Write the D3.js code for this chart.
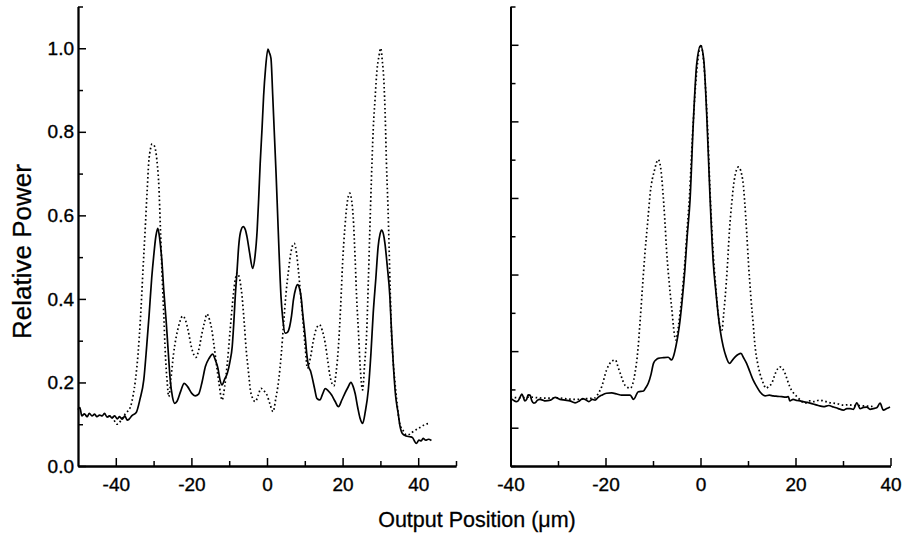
<!DOCTYPE html>
<html>
<head>
<meta charset="utf-8">
<script src="https://cdn.jsdelivr.net/npm/d3@7"></script>
<style>
  body { margin: 0; background: #fff; }
  svg { display: block; font-family: "Liberation Sans", Arial, sans-serif; }
</style>
</head>
<body>
<script>
var w = 903;
var h = 538;

// x ticks (um) and y ticks (relative power)
var leftXMajor = [-40, -20, 0, 20, 40];
var leftXMinor = [-30, -10, 10, 30, 50];
var rightXMajor = [-40, -20, 0, 20, 40];
var rightXMinor = [-30, -10, 10, 30];
var leftYMajor = [0, 0.2, 0.4, 0.6, 0.8, 1.0];
var leftYMinor = [0.1, 0.3, 0.5, 0.7, 0.9, 1.1];
var rightYMajor = [0, 0.2, 0.4, 0.6, 0.8, 1.0];
var rightYMinor = [-0.1, 0.1, 0.3, 0.5, 0.7, 0.9, 1.1];

// left panel, measured (solid) and dotted
var leftSolid = [[-50,0.135],[-49.5,0.14],[-49,0.12],[-48.3,0.125],[-47.6,0.118],[-47,0.126],[-46.3,0.12],[-45.6,0.124],[-45,0.118],[-44.3,0.122],[-43.6,0.12],[-43,0.126],[-42.3,0.117],[-41.6,0.12],[-41,0.115],[-40.3,0.12],[-39.6,0.113],[-39,0.118],[-38.3,0.112],[-37.6,0.12],[-37,0.11],[-36.5,0.112],[-35.8,0.12],[-34.6,0.128],[-33.6,0.16],[-32.6,0.206],[-31.8,0.29],[-31.2,0.36],[-30.5,0.45],[-30,0.5],[-29.4,0.55],[-28.9,0.569],[-28.4,0.545],[-27.8,0.49],[-27.3,0.42],[-26.7,0.35],[-26.1,0.27],[-25.6,0.206],[-25,0.165],[-24.4,0.15],[-23.8,0.155],[-22.8,0.18],[-21.9,0.198],[-21,0.19],[-19.9,0.174],[-19,0.168],[-18.1,0.172],[-17.2,0.2],[-16.3,0.238],[-15.3,0.258],[-14.4,0.268],[-13.6,0.252],[-13,0.235],[-12.4,0.205],[-11.9,0.194],[-11.2,0.208],[-10.5,0.222],[-9.8,0.25],[-9.2,0.286],[-8.8,0.34],[-8.4,0.406],[-7.9,0.47],[-7.5,0.525],[-7,0.56],[-6.3,0.573],[-5.7,0.565],[-5.3,0.549],[-4.6,0.51],[-3.8,0.473],[-3.2,0.5],[-2.6,0.565],[-2.2,0.64],[-1.8,0.725],[-1.3,0.81],[-0.9,0.885],[-0.4,0.95],[0.25,0.998],[0.6,0.99],[1.05,0.976],[1.5,0.89],[1.9,0.805],[2.4,0.7],[2.8,0.605],[3.2,0.51],[3.7,0.406],[4.2,0.35],[4.8,0.318],[5.4,0.32],[6,0.334],[6.5,0.36],[7,0.398],[7.6,0.425],[8.1,0.434],[8.6,0.425],[9,0.406],[9.5,0.36],[10.1,0.31],[10.5,0.27],[11,0.238],[11.5,0.228],[11.9,0.214],[12.6,0.185],[13.2,0.162],[14,0.158],[14.7,0.172],[15.4,0.185],[16.2,0.18],[17.1,0.17],[18,0.155],[18.9,0.142],[19.8,0.158],[20.6,0.174],[21.4,0.188],[22.2,0.2],[22.8,0.19],[23.3,0.174],[24,0.14],[24.6,0.115],[25.3,0.102],[26,0.13],[26.8,0.182],[27.5,0.27],[28.1,0.366],[28.8,0.45],[29.4,0.525],[29.9,0.555],[30.3,0.565],[30.8,0.555],[31.2,0.533],[31.8,0.48],[32.5,0.406],[32.9,0.33],[33.4,0.246],[34,0.17],[34.7,0.126],[35.2,0.095],[35.8,0.078],[36.8,0.072],[37.8,0.07],[38.5,0.068],[39,0.06],[39.5,0.054],[40.2,0.062],[40.8,0.06],[41.3,0.066],[42,0.062],[42.7,0.064],[43.5,0.061]];

var leftDotted = [[-42,0.118],[-41.4,0.12],[-40.5,0.11],[-39.7,0.1],[-39.2,0.102],[-38.3,0.115],[-37.4,0.126],[-36.1,0.142],[-35.4,0.17],[-34.8,0.206],[-34.1,0.27],[-33.5,0.35],[-32.8,0.47],[-32.1,0.589],[-31.7,0.66],[-31.3,0.725],[-30.8,0.76],[-30.4,0.771],[-29.9,0.768],[-29.5,0.757],[-29,0.72],[-28.6,0.669],[-28.2,0.57],[-27.8,0.469],[-27.3,0.36],[-26.9,0.27],[-26.4,0.2],[-26,0.166],[-25.4,0.21],[-24.7,0.27],[-24,0.31],[-23.4,0.334],[-22.3,0.359],[-21.6,0.35],[-20.9,0.326],[-20,0.285],[-18.8,0.26],[-18,0.28],[-17.2,0.318],[-16.5,0.345],[-15.9,0.364],[-15.2,0.35],[-14.6,0.326],[-14.1,0.294],[-13.4,0.245],[-12.7,0.198],[-11.9,0.158],[-11.2,0.19],[-10.5,0.246],[-9.8,0.32],[-9.2,0.382],[-8.5,0.44],[-7.9,0.462],[-7.3,0.45],[-6.6,0.406],[-6,0.34],[-5.5,0.278],[-4.9,0.225],[-4.4,0.182],[-3.8,0.162],[-3.1,0.154],[-2.3,0.17],[-1.6,0.186],[-0.8,0.18],[0,0.17],[0.8,0.148],[1.6,0.13],[2.3,0.16],[3.1,0.206],[3.8,0.27],[4.4,0.342],[5,0.41],[5.7,0.469],[6.4,0.515],[7.2,0.533],[7.8,0.51],[8.3,0.469],[8.9,0.41],[9.5,0.35],[10.1,0.285],[10.7,0.234],[11.5,0.26],[12.3,0.302],[13.1,0.33],[13.9,0.338],[14.6,0.325],[15.4,0.294],[16.1,0.25],[16.7,0.214],[17.7,0.192],[18.3,0.225],[18.9,0.286],[19.5,0.385],[20,0.486],[20.6,0.57],[21.2,0.629],[21.9,0.653],[22.4,0.635],[22.8,0.597],[23.3,0.5],[23.7,0.406],[24.2,0.32],[24.6,0.246],[25.3,0.182],[25.8,0.24],[26.4,0.326],[26.8,0.44],[27.2,0.565],[27.6,0.68],[28.1,0.805],[28.6,0.88],[29.1,0.948],[29.6,0.98],[30.1,1.0],[30.5,0.97],[30.9,0.925],[31.3,0.83],[31.6,0.725],[32,0.62],[32.3,0.525],[32.6,0.42],[32.9,0.326],[33.3,0.26],[33.8,0.206],[34.4,0.15],[35.1,0.102],[36,0.085],[36.9,0.074],[37.8,0.076],[38.6,0.082],[39.7,0.088],[40.8,0.094],[41.9,0.1],[43,0.102]];

// right panel
var rightSolid = [[-40,0.077],[-39.4,0.072],[-38.8,0.068],[-38.4,0.07],[-37.9,0.082],[-37.6,0.088],[-37.3,0.08],[-37,0.07],[-36.6,0.074],[-36.3,0.086],[-35.9,0.085],[-35.5,0.07],[-35.1,0.064],[-34.8,0.065],[-34.3,0.072],[-33.8,0.074],[-33.2,0.072],[-32.7,0.07],[-31.6,0.072],[-30.6,0.079],[-29.6,0.074],[-28.5,0.072],[-27.5,0.07],[-26.4,0.065],[-25.5,0.07],[-24.8,0.076],[-24.3,0.074],[-23.5,0.068],[-22.8,0.074],[-22.2,0.072],[-21.5,0.08],[-20.8,0.085],[-19.8,0.09],[-18.7,0.091],[-17.6,0.088],[-16.6,0.085],[-15.6,0.085],[-14.8,0.085],[-14.1,0.074],[-13.1,0.094],[-12,0.096],[-11.5,0.105],[-11,0.116],[-10.4,0.14],[-9.9,0.168],[-9.3,0.178],[-8.9,0.181],[-7.8,0.183],[-6.8,0.184],[-6.1,0.177],[-5.6,0.19],[-5.2,0.211],[-4.7,0.245],[-4.3,0.281],[-3.8,0.34],[-3.3,0.411],[-2.8,0.5],[-2.2,0.595],[-1.5,0.8],[-0.8,0.95],[0.04,0.998],[0.7,0.959],[1.3,0.82],[2,0.603],[2.7,0.429],[3.2,0.36],[3.7,0.298],[4.2,0.25],[4.8,0.211],[5.4,0.185],[6.1,0.168],[6.7,0.176],[7.3,0.185],[8,0.192],[8.5,0.194],[9.1,0.182],[9.7,0.168],[10.4,0.146],[11.1,0.124],[11.8,0.108],[12.5,0.094],[13.6,0.083],[14.5,0.085],[15.3,0.083],[16.2,0.082],[17.1,0.081],[18,0.08],[18.5,0.081],[18.8,0.07],[19.5,0.074],[20.3,0.071],[21,0.07],[21.6,0.068],[22.5,0.066],[23.7,0.062],[24.8,0.058],[25.9,0.055],[27,0.058],[28,0.054],[29,0.05],[30.1,0.046],[30.8,0.05],[31.5,0.05],[32.2,0.048],[32.9,0.065],[33.6,0.05],[34.3,0.053],[35,0.054],[35.7,0.048],[36.4,0.05],[37.1,0.052],[37.8,0.064],[38.5,0.046],[39.2,0.05],[39.9,0.054]];

var rightDotted = [[-40,0.08],[-38,0.078],[-36,0.08],[-34,0.078],[-32,0.077],[-30,0.078],[-28,0.075],[-26,0.074],[-24,0.076],[-22.2,0.078],[-21.5,0.09],[-20.8,0.107],[-19.8,0.15],[-18.8,0.172],[-17.9,0.177],[-17.4,0.16],[-16.9,0.142],[-15.9,0.111],[-14.8,0.103],[-13.8,0.142],[-13.2,0.2],[-12.7,0.281],[-12.2,0.37],[-11.7,0.455],[-11.1,0.54],[-10.6,0.611],[-9.7,0.672],[-8.9,0.7],[-8.4,0.68],[-8,0.629],[-7.5,0.54],[-7.1,0.455],[-6.6,0.38],[-6.1,0.316],[-5.2,0.229],[-4.6,0.27],[-4.3,0.3],[-3.8,0.36],[-3.3,0.43],[-2.8,0.52],[-2.3,0.61],[-1.7,0.76],[-1,0.9],[-0.4,0.975],[0,1.0],[0.5,0.975],[1,0.9],[1.5,0.78],[2,0.62],[2.6,0.47],[3.2,0.37],[3.7,0.3],[4.2,0.26],[4.5,0.255],[4.9,0.3],[5.2,0.342],[5.7,0.43],[6.1,0.516],[6.6,0.59],[7.1,0.646],[8,0.681],[8.9,0.646],[9.3,0.59],[9.7,0.516],[10.1,0.43],[10.6,0.342],[11.1,0.27],[11.5,0.211],[12,0.17],[12.5,0.142],[13.1,0.12],[13.8,0.103],[14.4,0.108],[15,0.116],[15.9,0.146],[16.7,0.159],[17.3,0.154],[17.8,0.142],[18.3,0.124],[18.8,0.107],[19.5,0.092],[20.3,0.081],[21.2,0.07],[22,0.064],[23,0.07],[24,0.068],[25,0.072],[25.9,0.07],[27,0.066],[28,0.064],[29,0.062],[30.1,0.059],[31.2,0.06],[32.2,0.058],[33.3,0.058],[34.3,0.057],[35.5,0.056],[36.5,0.055]];

var svg = d3.select("body").append("svg")
            .attr("width", w)
            .attr("height", h);

var baseY = 466;

// scales
var xLeft = d3.scaleLinear().domain([-50, 50]).range([78, 456]);
var yLeft = d3.scaleLinear().domain([0, 1.1]).range([baseY, 6.5]);
var xRight = d3.scaleLinear().domain([-40, 40]).range([510.5, 890.5]);
var yRight = d3.scaleLinear().domain([-0.1, 1.1]).range([baseY, 6.5]);

function drawAxes(x, y, xMaj, xMin, yMaj, yMin, labelY) {
  var g = svg.append("g");
  // minor ticks first, then the labelled ones
  g.append("g").attr("transform", "translate(0," + baseY + ")")
    .call(d3.axisBottom(x).tickValues(xMin).tickSize(-5).tickSizeOuter(0).tickFormat(""));
  g.append("g").attr("transform", "translate(0," + baseY + ")")
    .call(d3.axisBottom(x).tickValues(xMaj).tickSize(-8).tickSizeOuter(0).tickPadding(12)
      .tickFormat(function(d){ return String(d); }));
  g.append("g").attr("transform", "translate(" + x.range()[0] + ",0)")
    .call(d3.axisLeft(y).tickValues(yMin).tickSize(-5).tickSizeOuter(0).tickFormat(""));
  g.append("g").attr("transform", "translate(" + x.range()[0] + ",0)")
    .call(d3.axisLeft(y).tickValues(yMaj).tickSize(-8).tickSizeOuter(0).tickPadding(4)
      .tickFormat(labelY ? d3.format(".1f") : ""));

  g.selectAll(".domain").attr("stroke-width", 1.8).attr("stroke", "#000");
  g.selectAll(".tick line").attr("stroke-width", 1.5).attr("stroke", "#000");
  g.selectAll(".tick text").attr("font-size", "19px").attr("fill", "#000")
    .attr("stroke", "#000").attr("stroke-width", 0.35)
    .attr("font-family", "'Liberation Sans', Arial, sans-serif");
}

drawAxes(xLeft, yLeft, leftXMajor, leftXMinor, leftYMajor, leftYMinor, true);
drawAxes(xRight, yRight, rightXMajor, rightXMinor, rightYMajor, rightYMinor, false);

function drawLines(x, y, solid, dotted) {
  var line = d3.line()
    .x(function(d){ return x(d[0]); })
    .y(function(d){ return y(d[1]); })
    .curve(d3.curveMonotoneX);
  svg.append("path").datum(dotted)
    .attr("d", line)
    .attr("fill", "none")
    .attr("stroke", "#000")
    .attr("stroke-width", 1.7)
    .attr("stroke-dasharray", "1.6,2.6");
  svg.append("path").datum(solid)
    .attr("d", line)
    .attr("fill", "none")
    .attr("stroke", "#000")
    .attr("stroke-width", 1.7)
    .attr("stroke-linejoin", "round");
}

drawLines(xLeft, yLeft, leftSolid, leftDotted);
drawLines(xRight, yRight, rightSolid, rightDotted);

// axis titles
svg.append("text")
   .text("Output Position (\u03bcm)")
   .attr("x", 477)
   .attr("y", 527)
   .attr("text-anchor", "middle")
   .attr("font-size", "21.5px")
   .attr("fill", "#000")
   .attr("stroke", "#000")
   .attr("stroke-width", 0.3);

svg.append("text")
   .text("Relative Power")
   .attr("transform", "translate(31,251.5) rotate(-90)")
   .attr("text-anchor", "middle")
   .attr("font-size", "26px")
   .attr("fill", "#000")
   .attr("stroke", "#000")
   .attr("stroke-width", 0.3);
</script>
</body>
</html>
